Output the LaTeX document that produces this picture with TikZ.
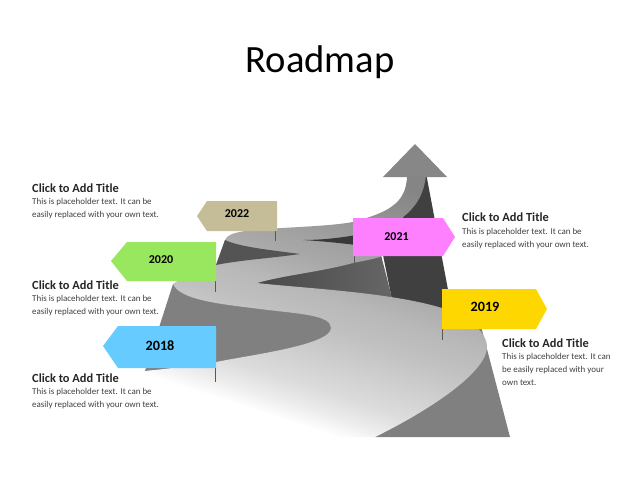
\documentclass[tikz,border=0pt]{standalone}
\usepackage{fontspec}
\setmainfont{Carlito}
\definecolor{tancol}{HTML}{C4BD97}
\definecolor{greencol}{HTML}{99E65F}
\definecolor{bluecol}{HTML}{66CCFF}
\definecolor{pinkcol}{HTML}{FF80FF}
\definecolor{yellowcol}{HTML}{FFD700}
\definecolor{gA}{HTML}{EEEEEE}
\definecolor{gB}{HTML}{DCDCDC}
\definecolor{gC}{HTML}{C0C0C0}
\definecolor{gD}{HTML}{B8B8B8}
\definecolor{gE}{HTML}{A8A8A8}
\definecolor{gF}{HTML}{858585}
\pgfdeclareverticalshading{roadshade}{100bp}{color(0bp)=(white); color(29bp)=(white); color(32bp)=(gA); color(36bp)=(gB); color(47bp)=(gC); color(52bp)=(gD); color(58bp)=(gE); color(75bp)=(gF); color(100bp)=(gF)}
\tikzset{
  flag/.style={draw=none,align=center,font=\bfseries\fontsize{12}{14}\selectfont},
  bigflag/.style={draw=none,align=center,font=\bfseries\fontsize{14.2}{16}\selectfont},
  pole/.style={draw=black!65,line width=0.8pt},
  heading/.style={anchor=north west,inner sep=0pt,font=\bfseries\fontsize{12.4}{14}\selectfont,text=black!85},
  body/.style={anchor=north west,inner sep=0pt,align=left,font=\fontsize{8.95}{12.8}\selectfont,text=black!75},
}
\begin{document}
\begin{tikzpicture}[x=1pt,y=-1pt]
\useasboundingbox (0,0) rectangle (640,480);
\fill[white] (0,0) rectangle (640,480);
\node[font=\fontsize{38.6}{42}\selectfont,text=black] (title) at (320,62) {Roadmap};
% mountain
\fill[black!75] (426,173) -- (449,295) -- (449,320) -- (392,300) -- (382,250) -- (403,217) -- cycle;
\fill[black!50] (449,300) -- (475,300) -- (482,330) -- (510,437) -- (375,437) -- cycle;
\shade[left color=black!72,right color=black!60] (250,283) -- (353,255) -- (381,255) -- (392,298) -- (250,295) -- cycle;
\fill[black!50] (173,284) -- (145,371) -- (216,366) -- (300,352) -- (340,330) -- (320,305) -- (260,300) -- cycle;
% road
\path[shade,shading=roadshade,shading angle=-18]
 (173,284) .. controls (190,272) and (205,268) .. (216,265) -- (225,240)
 .. controls (227,235) and (233,233) .. (245,231)
 .. controls (280,227) and (325,227) .. (353,222)
 .. controls (385,213) and (407,205) .. (407,175)
 -- (426,175)
 .. controls (424,195) and (415,208) .. (403,217)
 .. controls (395,225) and (395,245) .. (380,257)
 .. controls (370,260) and (362,261) .. (353,263)
 .. controls (320,272) and (285,275) .. (257,283)
 .. controls (300,288) and (390,292) .. (442,308)
 .. controls (468,316) and (487,332) .. (487,347)
 .. controls (487,372) and (430,410) .. (375,437)
 -- (210,437) -- (145,371)
 .. controls (175,368) and (195,365) .. (216,362)
 .. controls (250,355) and (331,345) .. (331,328)
 .. controls (331,315) and (300,314) .. (260,309)
 .. controls (220,304) and (180,300) .. (173,284) -- cycle;
% wedges
\fill[black!67] (225,240) .. controls (240,247) and (270,250) .. (300,254)
 .. controls (273,258) and (240,260) .. (216,265) -- cycle;
\fill[black!78] (303,240) .. controls (320,240) and (340,238) .. (356,235) -- (356,245) .. controls (340,243) and (320,241) .. (303,240) -- cycle;
% arrow head
\fill[black!47] (415,144) -- (447,177) -- (383,177) -- cycle;
% poles
\coordinate (p22) at (275,241); \coordinate (p20) at (215,292); \coordinate (p18) at (215,382);
\coordinate (p21) at (354,263); \coordinate (p19) at (442,340);
\coordinate (t22) at (275,231); \coordinate (t20) at (215,281); \coordinate (t18) at (215,368);
\coordinate (t21) at (354,256); \coordinate (t19) at (442,329);
\draw[pole] (t22) -- (p22);
\draw[pole] (t20) -- (p20);
\draw[pole] (t18) -- (p18);
\draw[pole] (t21) -- (p21);
\draw[pole] (t19) -- (p19);
% flags
\fill[tancol] (197,216) -- (207,201) -- (277,201) -- (277,231) -- (207,231) -- cycle;
\fill[greencol] (111,261) -- (127,242) -- (216,242) -- (216,281) -- (127,281) -- cycle;
\fill[bluecol] (103,346) -- (118,326) -- (216,326) -- (216,368) -- (118,368) -- cycle;
\fill[pinkcol] (353,218) -- (443,218) -- (455,237) -- (443,256) -- (353,256) -- cycle;
\fill[yellowcol] (442,289) -- (536,289) -- (547,309) -- (536,329) -- (442,329) -- cycle;
\node[flag] (f22) at (237,214) {2022};
\node[flag] (f20) at (161,260) {2020};
\node[bigflag] (f18) at (160,345.5) {2018};
\node[flag] (f21) at (396.5,237) {2021};
\node[bigflag] (f19) at (485,307) {2019};
% text
\node[heading] (h1) at (32,184) {Click to Add Title};
\node[body] (b1) at (32,198) {This is placeholder text. It can be\\easily replaced with your own text.};
\node[heading] (h2) at (32,281) {Click to Add Title};
\node[body] (b2) at (32,295) {This is placeholder text. It can be\\easily replaced with your own text.};
\node[heading] (h3) at (32,374) {Click to Add Title};
\node[body] (b3) at (32,388) {This is placeholder text. It can be\\easily replaced with your own text.};
\node[heading] (h4) at (462,213) {Click to Add Title};
\node[body] (b4) at (462,228) {This is placeholder text. It can be\\easily replaced with your own text.};
\node[heading] (h5) at (502,339) {Click to Add Title};
\node[body] (b5) at (502,353) {This is placeholder text. It can\\be easily replaced with your\\own text.};
\end{tikzpicture}
\end{document}
